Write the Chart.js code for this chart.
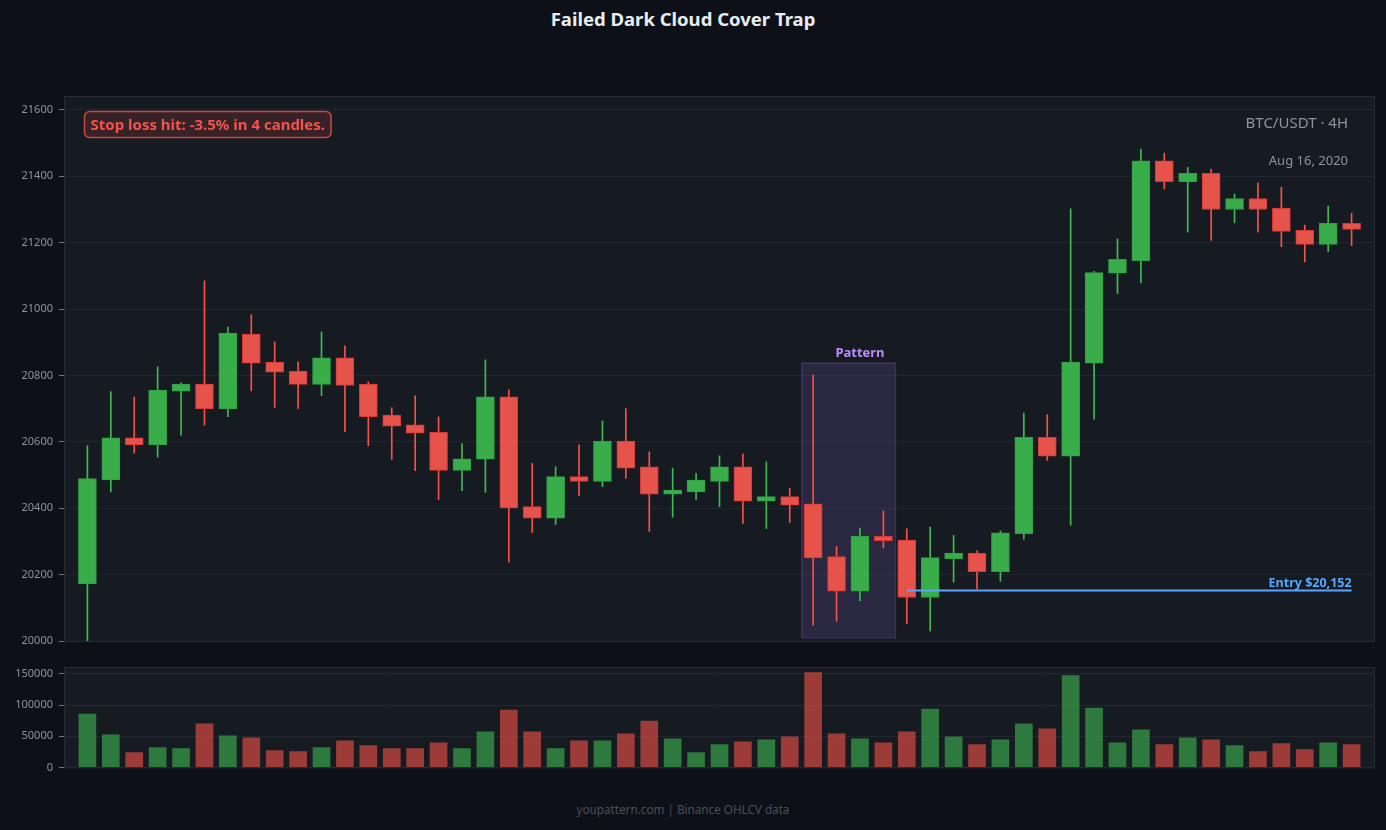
<!DOCTYPE html>
<html>
<head>
<meta charset="utf-8">
<script src="https://cdn.jsdelivr.net/npm/chart.js@4.4.1/dist/chart.umd.min.js"></script>
<style>
  html, body { margin: 0; padding: 0; background: #0d1117; }
  body { width: 1386px; height: 830px; position: relative; overflow: hidden; font-family: "Noto Sans", sans-serif; }
  #title { position: absolute; left: 0; top: 6px; width: 1366px; text-align: center; color: #e6edf3; font-weight: bold; font-size: 18.5px; }
  #footer { position: absolute; left: 0; top: 801px; width: 1366px; text-align: center; color: #484f58; font-size: 11.7px; }
  #main { position: absolute; left: 0; top: 0; }
  #vol { position: absolute; left: 0; top: 650px; }
</style>
</head>
<body>
<div id="title">Failed Dark Cloud Cover Trap</div>
<canvas id="main" width="1386" height="660"></canvas>
<canvas id="vol" width="1386" height="130"></canvas>
<div id="footer">youpattern.com | Binance OHLCV data</div>
<script>
// OHLCV (BTC/USDT 4H)
var opens = [20172, 20485, 20612, 20591, 20753, 20774, 20699, 20925, 20840, 20813, 20773, 20853, 20774, 20681, 20651, 20629, 20514, 20548, 20736, 20405,
  20370, 20495, 20481, 20602, 20525, 20442, 20449, 20481, 20525, 20421, 20435, 20413, 20254, 20150, 20315, 20304, 20131, 20248, 20265, 20209,
  20323, 20614, 20557, 20837, 21108, 21146, 21447, 21384, 21409, 21300, 21333, 21304, 21237, 21195, 21258];
var highs = [20588, 20751, 20735, 20826, 20778, 21085, 20946, 20983, 20901, 20841, 20931, 20889, 20781, 20703, 20739, 20675, 20595, 20847, 20757, 20535,
  20525, 20591, 20663, 20700, 20570, 20521, 20505, 20558, 20564, 20540, 20460, 20801, 20285, 20340, 20392, 20338, 20343, 20318, 20272, 20332,
  20687, 20682, 21302, 21114, 21211, 21482, 21470, 21427, 21422, 21346, 21380, 21367, 21253, 21310, 21289];
var lows = [20000, 20449, 20566, 20554, 20620, 20650, 20676, 20754, 20704, 20701, 20739, 20631, 20588, 20547, 20513, 20426, 20453, 20448, 20238, 20327,
  20351, 20438, 20465, 20490, 20330, 20373, 20426, 20405, 20354, 20339, 20357, 20048, 20059, 20121, 20280, 20052, 20030, 20177, 20158, 20180,
  20307, 20544, 20349, 20668, 21047, 21079, 21362, 21232, 21207, 21260, 21232, 21188, 21142, 21173, 21191];
var closes = [20489, 20612, 20591, 20756, 20774, 20699, 20928, 20837, 20810, 20773, 20853, 20770, 20676, 20647, 20626, 20514, 20549, 20736, 20401, 20370,
  20495, 20481, 20602, 20521, 20442, 20455, 20485, 20525, 20421, 20435, 20409, 20250, 20150, 20315, 20302, 20131, 20251, 20265, 20209, 20326,
  20614, 20557, 20840, 21110, 21150, 21447, 21384, 21409, 21300, 21333, 21300, 21234, 21195, 21258, 21240];
var volumes = [85500, 52300, 23800, 31700, 30100, 69700, 50700, 47500, 26900, 25300, 31700, 42800, 34800, 30100, 30100, 39600, 30100, 57000, 91900, 57000,
  30100, 42800, 42800, 53900, 74400, 45900, 23800, 36400, 41200, 44400, 49100, 152000, 53900, 45900, 39600, 57000, 93500, 49100, 36400, 44400,
  69700, 61800, 147300, 95000, 39600, 60200, 36400, 47500, 44400, 34800, 25300, 38000, 28500, 39600, 36400];

var priceTicks = [20000, 20200, 20400, 20600, 20800, 21000, 21200, 21400, 21600];
var volumeTicks = [0, 50000, 100000, 150000];

var patternStart = 31, patternEnd = 34;
var entryPrice = 20152, entryStart = 35, entryEnd = 54;

var UP = '#3fb950', DOWN = '#f85149';

var bodies = [], wicks = [], bodyColors = [], bodyBorders = [], wickColors = [], volData = [], volColors = [];
for (var i = 0; i < opens.length; i++) {
  var up = closes[i] >= opens[i];
  bodies.push({ x: i, y: [opens[i], closes[i]] });
  wicks.push({ x: i, y: [lows[i], highs[i]] });
  bodyColors.push(up ? '#3aad4b' : '#e5534b');
  bodyBorders.push(up ? '#2ea043' : '#da3633');
  wickColors.push(up ? UP : DOWN);
  volData.push({ x: i, y: volumes[i] });
  volColors.push(up ? 'rgba(63,185,80,0.6)' : 'rgba(248,81,73,0.6)');
}

var frame = {
  id: 'frame',
  beforeDraw: function (chart) {
    var a = chart.chartArea, ctx = chart.ctx;
    ctx.save();
    ctx.fillStyle = '#161b22';
    ctx.fillRect(a.left, a.top, a.right - a.left, a.bottom - a.top);
    ctx.restore();
  },
  afterDraw: function (chart) {
    var a = chart.chartArea, ctx = chart.ctx;
    ctx.save();
    ctx.strokeStyle = '#262c35';
    ctx.lineWidth = 1;
    ctx.strokeRect(a.left + 0.5, a.top + 0.5, a.right - a.left - 1, a.bottom - a.top);
    ctx.restore();
  }
};

var notes = {
  id: 'notes',
  beforeDatasetsDraw: function (chart) {
    var x = chart.scales.x, y = chart.scales.y, ctx = chart.ctx;
    var hi = Math.max.apply(null, highs.slice(patternStart, patternEnd + 1));
    var lo = Math.min.apply(null, lows.slice(patternStart, patternEnd + 1));
    var pad = (hi - lo) * 0.05;
    var x0 = x.getPixelForValue(patternStart - 0.5), x1 = x.getPixelForValue(patternEnd + 0.5);
    var y0 = y.getPixelForValue(hi + pad), y1 = y.getPixelForValue(lo - pad);
    ctx.save();
    ctx.fillStyle = 'rgba(163,113,247,0.15)';
    ctx.fillRect(x0, y0, x1 - x0, y1 - y0);
    ctx.strokeStyle = 'rgba(163,113,247,0.3)';
    ctx.strokeRect(x0 + 0.5, y0 + 0.5, x1 - x0, y1 - y0);
    ctx.fillStyle = '#bc8cff';
    ctx.font = 'bold 13px "Noto Sans"';
    ctx.textAlign = 'center';
    ctx.textBaseline = 'bottom';
    ctx.fillText('Pattern', x.getPixelForValue(patternStart + 2), y0 - 3);
    ctx.restore();
  },
  afterDatasetsDraw: function (chart) {
    var a = chart.chartArea, x = chart.scales.x, y = chart.scales.y, ctx = chart.ctx;
    ctx.save();
    // entry label
    ctx.fillStyle = '#58a6ff';
    ctx.font = 'bold 12.5px "Noto Sans"';
    ctx.textAlign = 'right';
    ctx.textBaseline = 'bottom';
    ctx.fillText('Entry $20,152', x.getPixelForValue(entryEnd), y.getPixelForValue(entryPrice) - 1);

    // stop loss box
    ctx.font = 'bold 15px "Noto Sans"';
    var txt = 'Stop loss hit: -3.5% in 4 candles.';
    var w = ctx.measureText(txt).width + 12;
    var bx = a.left + 20.5, by = a.top + 15.5, bh = 26;
    ctx.beginPath();
    ctx.roundRect(bx, by, w, bh, 5);
    ctx.fillStyle = 'rgba(248,81,73,0.15)';
    ctx.fill();
    ctx.strokeStyle = 'rgba(248,81,73,0.8)';
    ctx.lineWidth = 1.5;
    ctx.stroke();
    ctx.fillStyle = '#f85149';
    ctx.textAlign = 'left';
    ctx.textBaseline = 'middle';
    ctx.fillText(txt, bx + 6, by + bh / 2 + 1);

    // pair / date
    ctx.fillStyle = '#8b949e';
    ctx.textAlign = 'right';
    ctx.font = '15px "Noto Sans"';
    ctx.fillText('BTC/USDT · 4H', a.right - 27, a.top + 28);
    ctx.font = '13px "Noto Sans"';
    ctx.fillText('Aug 16, 2020', a.right - 27, a.top + 65);
    ctx.restore();
  }
};

var tickFont = { family: 'Noto Sans', size: 11 };
var plainTick = function (v) { return String(v); };

var mainChart = new Chart(document.getElementById('main').getContext('2d'), {
  type: 'bar',
  data: {
    datasets: [
      {
        type: 'line',
        data: [{ x: entryStart, y: entryPrice }, { x: entryEnd, y: entryPrice }],
        borderColor: '#58a6ff',
        borderWidth: 2,
        pointRadius: 0,
        order: 1
      },
      {
        data: bodies,
        backgroundColor: bodyColors,
        borderColor: bodyBorders,
        borderWidth: 1,
        borderSkipped: false,
        barThickness: 18,
        grouped: false,
        order: 2
      },
      {
        data: wicks,
        backgroundColor: wickColors,
        borderWidth: 0,
        barThickness: 1,
        grouped: false,
        order: 3
      }
    ]
  },
  options: {
    responsive: false,
    animation: false,
    layout: { padding: { top: 96, bottom: 19, right: 11, left: 0 } },
    plugins: { legend: { display: false }, tooltip: { enabled: false } },
    scales: {
      x: { type: 'linear', min: -1, max: 55, offset: false, display: false },
      y: {
        min: 20000,
        max: 21642,
        afterBuildTicks: function (scale) {
          scale.ticks = priceTicks.map(function (v) { return { value: v }; });
        },
        afterFit: function (scale) { scale.width = 64; },
        grid: { color: 'rgba(48,54,61,0.45)', tickColor: '#6e7681', tickLength: 5 },
        border: { display: false },
        ticks: { color: '#8b949e', font: tickFont, padding: 6, callback: plainTick }
      }
    }
  },
  plugins: [frame, notes]
});

var volChart = new Chart(document.getElementById('vol').getContext('2d'), {
  type: 'bar',
  data: {
    datasets: [{
      data: volData,
      backgroundColor: volColors,
      borderWidth: 0,
      barThickness: 17
    }]
  },
  options: {
    responsive: false,
    animation: false,
    layout: { padding: { top: 17, bottom: 12, right: 11, left: 0 } },
    plugins: { legend: { display: false }, tooltip: { enabled: false } },
    scales: {
      x: { type: 'linear', min: -1, max: 55, offset: false, display: false },
      y: {
        min: 0,
        max: 161000,
        z: 1,
        afterBuildTicks: function (scale) {
          scale.ticks = volumeTicks.map(function (v) { return { value: v }; });
        },
        afterFit: function (scale) { scale.width = 64; },
        grid: { color: 'rgba(48,54,61,0.5)', tickColor: '#6e7681', tickLength: 5 },
        border: { display: false },
        ticks: { color: '#8b949e', font: tickFont, padding: 6, callback: plainTick }
      }
    }
  },
  plugins: [frame]
});
</script>
</body>
</html>
